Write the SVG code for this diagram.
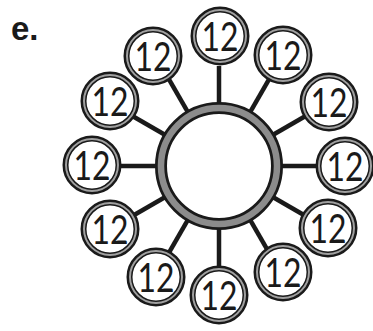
<svg xmlns="http://www.w3.org/2000/svg" width="373" height="331" viewBox="0 0 373 331">
<style>
.spoke{stroke:#1a1a1a;stroke-width:4.5;stroke-linecap:butt}
.ob{fill:#fff;stroke:#1a1a1a;stroke-width:6}
.og{fill:none;stroke:#a0a0a0;stroke-width:2}
.num{font-family:"Lato","Open Sans","Liberation Sans",sans-serif;font-weight:400;font-size:40px;fill:#1a1a1a;text-anchor:middle}
</style>
<defs>
<g id="small">
<circle class="ob" r="26.5"/>
<circle class="og" r="26"/>
<text class="num" x="0" y="14.5" textLength="37" lengthAdjust="spacingAndGlyphs">12</text>
</g>
</defs>
<text x="11" y="40" font-family="Liberation Sans, sans-serif" font-weight="bold" font-size="33" fill="#1a1a1a">e.</text>
<g id="connectors">
<line class="spoke" x1="219" y1="104" x2="219" y2="66"/>
<line class="spoke" x1="250" y1="112.3" x2="269" y2="79.4"/>
<line class="spoke" x1="272.7" y1="135" x2="305.6" y2="116"/>
<line class="spoke" x1="281" y1="166" x2="319" y2="166"/>
<line class="spoke" x1="272.7" y1="197" x2="305.6" y2="216"/>
<line class="spoke" x1="250" y1="219.7" x2="269" y2="252.6"/>
<line class="spoke" x1="219" y1="228" x2="219" y2="266"/>
<line class="spoke" x1="188" y1="219.7" x2="169" y2="252.6"/>
<line class="spoke" x1="165.3" y1="197" x2="132.4" y2="216"/>
<line class="spoke" x1="157" y1="166" x2="119" y2="166"/>
<line class="spoke" x1="165.3" y1="135" x2="132.4" y2="116"/>
<line class="spoke" x1="188" y1="112.3" x2="169" y2="79.4"/>
</g>
<g id="hub">
<circle cx="219" cy="166" r="58" fill="#fff" stroke="#1a1a1a" stroke-width="12"/>
<circle cx="219" cy="166" r="58" fill="none" stroke="#8c8c8c" stroke-width="6.5"/>
</g>
<g id="n0"><use href="#small" x="220" y="36"/></g>
<g id="n1"><use href="#small" x="283" y="55"/></g>
<g id="n2"><use href="#small" x="329" y="102"/></g>
<g id="n3"><use href="#small" x="345" y="166"/></g>
<g id="n4"><use href="#small" x="328" y="228"/></g>
<g id="n5"><use href="#small" x="283" y="272"/></g>
<g id="n6"><use href="#small" x="219" y="295"/></g>
<g id="n7"><use href="#small" x="156" y="277"/></g>
<g id="n8"><use href="#small" x="110" y="229"/></g>
<g id="n9"><use href="#small" x="92" y="165"/></g>
<g id="n10"><use href="#small" x="110" y="101"/></g>
<g id="n11"><use href="#small" x="153" y="56"/></g>
</svg>
